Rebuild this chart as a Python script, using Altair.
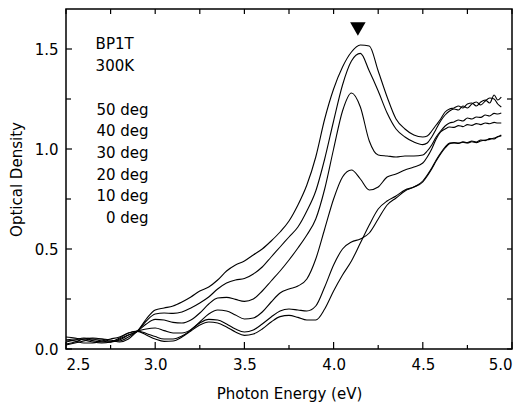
import altair as alt
import pandas as pd

# ---- data ----
energy = [2.50, 2.55, 2.60, 2.65, 2.70, 2.75, 2.80, 2.85, 2.90, 2.95,
          3.00, 3.05, 3.10, 3.15, 3.20, 3.25, 3.30, 3.35, 3.40, 3.45,
          3.50, 3.55, 3.60, 3.65, 3.70, 3.75, 3.80, 3.85, 3.90, 3.95,
          4.00, 4.05, 4.10, 4.15, 4.20, 4.25, 4.30, 4.35, 4.40, 4.45,
          4.50, 4.525, 4.55, 4.575, 4.60, 4.625, 4.65, 4.675, 4.70, 4.725,
          4.75, 4.775, 4.80, 4.825, 4.85, 4.875, 4.90, 4.92, 4.94]

od_50 = [0.045, 0.050, 0.050, 0.042, 0.035, 0.035, 0.050, 0.070, 0.090, 0.150,
         0.195, 0.205, 0.215, 0.235, 0.260, 0.290, 0.310, 0.345, 0.390, 0.420,
         0.440, 0.470, 0.500, 0.540, 0.585, 0.640, 0.720, 0.820, 0.960, 1.150,
         1.300, 1.410, 1.485, 1.520, 1.515, 1.390, 1.260, 1.150, 1.100, 1.070,
         1.060, 1.065, 1.090, 1.120, 1.150, 1.185, 1.200, 1.205, 1.215, 1.205,
         1.225, 1.230, 1.215, 1.235, 1.245, 1.230, 1.270, 1.245, 1.260]
od_40 = [0.035, 0.045, 0.055, 0.050, 0.040, 0.035, 0.045, 0.070, 0.090, 0.140,
         0.175, 0.180, 0.178, 0.185, 0.205, 0.230, 0.260, 0.300, 0.330, 0.345,
         0.352, 0.375, 0.410, 0.460, 0.510, 0.560, 0.610, 0.690, 0.790, 0.950,
         1.140, 1.320, 1.440, 1.478, 1.390, 1.290, 1.180, 1.100, 1.060, 1.035,
         1.022, 1.030, 1.060, 1.100, 1.140, 1.170, 1.190, 1.200, 1.195, 1.215,
         1.205, 1.225, 1.235, 1.220, 1.240, 1.255, 1.250, 1.225, 1.210]
od_30 = [0.025, 0.035, 0.050, 0.055, 0.050, 0.040, 0.040, 0.060, 0.088, 0.125,
         0.148, 0.145, 0.133, 0.130, 0.145, 0.180, 0.225, 0.255, 0.258, 0.248,
         0.238, 0.250, 0.290, 0.340, 0.390, 0.445, 0.505, 0.570, 0.650, 0.800,
         1.000, 1.190, 1.280, 1.210, 1.040, 0.970, 0.965, 0.960, 0.965, 0.965,
         0.970, 0.990, 1.020, 1.060, 1.090, 1.115, 1.130, 1.135, 1.145, 1.140,
         1.155, 1.150, 1.160, 1.158, 1.170, 1.165, 1.178, 1.175, 1.180]
od_20 = [0.020, 0.030, 0.040, 0.050, 0.050, 0.045, 0.035, 0.050, 0.087, 0.100,
         0.105, 0.092, 0.080, 0.080, 0.097, 0.135, 0.175, 0.195, 0.190, 0.170,
         0.150, 0.155, 0.185, 0.235, 0.280, 0.300, 0.315, 0.350, 0.450, 0.600,
         0.750, 0.860, 0.895, 0.850, 0.795, 0.810, 0.860, 0.875, 0.895, 0.910,
         0.930, 0.960, 1.000, 1.050, 1.085, 1.100, 1.110, 1.108, 1.117, 1.112,
         1.122, 1.118, 1.127, 1.122, 1.130, 1.126, 1.133, 1.130, 1.130]
od_10 = [0.045, 0.040, 0.030, 0.030, 0.040, 0.050, 0.060, 0.080, 0.090, 0.078,
         0.062, 0.050, 0.050, 0.065, 0.095, 0.130, 0.148, 0.145, 0.125, 0.100,
         0.085, 0.095, 0.125, 0.160, 0.190, 0.200, 0.195, 0.190, 0.215, 0.310,
         0.420, 0.500, 0.535, 0.550, 0.580, 0.650, 0.720, 0.755, 0.790, 0.810,
         0.840, 0.870, 0.905, 0.945, 0.980, 1.010, 1.030, 1.032, 1.030, 1.036,
         1.032, 1.040, 1.035, 1.045, 1.042, 1.052, 1.050, 1.062, 1.065]
od_0 = [0.060, 0.055, 0.045, 0.035, 0.030, 0.035, 0.055, 0.080, 0.088, 0.070,
        0.050, 0.038, 0.040, 0.060, 0.090, 0.120, 0.135, 0.130, 0.110, 0.085,
        0.068, 0.075, 0.100, 0.135, 0.162, 0.168, 0.158, 0.145, 0.145, 0.200,
        0.290, 0.370, 0.440, 0.530, 0.620, 0.700, 0.740, 0.765, 0.795, 0.810,
        0.835, 0.865, 0.900, 0.940, 0.975, 1.005, 1.027, 1.030, 1.028, 1.034,
        1.030, 1.036, 1.032, 1.040, 1.045, 1.048, 1.055, 1.060, 1.070]

series_names = ["50 deg", "40 deg", "30 deg", "20 deg", "10 deg", "0 deg"]
series_values = [od_50, od_40, od_30, od_20, od_10, od_0]

sample_lines = ["BP1T", "300K"]
x_ticks_major = [2.5, 3.0, 3.5, 4.0, 4.5, 5.0]
x_ticks_minor = [2.75, 3.25, 3.75, 4.25, 4.75]
y_ticks_major = [0.0, 0.5, 1.0, 1.5]
y_ticks_minor = [0.25, 0.75, 1.25]
peak_energy = [4.136]
peak_mark_od = [1.60]

# ---- build tables ----
rows = []
for name, vals in zip(series_names, series_values):
    for e, v in zip(energy, vals):
        rows.append({"energy": e, "od": v, "series": name})
df = pd.DataFrame(rows)

W, H = 446, 340
X0, X1, Y0, Y1 = 2.5, 5.0, 0.0, 1.7
FONT = "DejaVu Sans"
xs = alt.Scale(domain=[X0, X1], nice=False, zero=False)
ys = alt.Scale(domain=[Y0, Y1], nice=False)

def px_x(n):
    return n * (X1 - X0) / W

def px_y(n):
    return n * (Y1 - Y0) / H

lines = alt.Chart(df).mark_line(
    color="black", strokeWidth=1.1, interpolate="monotone"
).encode(
    x=alt.X("energy:Q", scale=xs,
            axis=alt.Axis(values=x_ticks_major, format=".1f", title="Photon Energy (eV)",
                          ticks=False, tickSize=0, domain=False, grid=False,
                          labelPadding=8, titlePadding=14)),
    y=alt.Y("od:Q", scale=ys,
            axis=alt.Axis(values=y_ticks_major, format=".1f", title="Optical Density",
                          ticks=False, tickSize=0, domain=False, grid=False,
                          labelPadding=8, titlePadding=10)),
    detail="series:N",
)

# inward tick marks on all four sides
tick_rows = []
for v in x_ticks_major:
    tick_rows.append({"energy": v, "energy2": v, "od": Y0, "od2": Y0 + px_y(7)})
for v in x_ticks_minor:
    tick_rows.append({"energy": v, "energy2": v, "od": Y0, "od2": Y0 + px_y(4)})
for v in sorted(x_ticks_major + x_ticks_minor):
    tick_rows.append({"energy": v, "energy2": v, "od": Y1, "od2": Y1 - px_y(5)})
for v in y_ticks_major:
    tick_rows.append({"energy": X0, "energy2": X0 + px_x(6), "od": v, "od2": v})
for v in y_ticks_minor:
    tick_rows.append({"energy": X0, "energy2": X0 + px_x(5), "od": v, "od2": v})
for v in sorted(y_ticks_major + y_ticks_minor):
    tick_rows.append({"energy": X1, "energy2": X1 - px_x(5), "od": v, "od2": v})
tick_df = pd.DataFrame(tick_rows)

ticks = alt.Chart(tick_df).mark_rule(color="black", strokeWidth=1.2).encode(
    x=alt.X("energy:Q", scale=xs), x2="energy2:Q",
    y=alt.Y("od:Q", scale=ys), y2="od2:Q",
)

# annotations
sample_df = pd.DataFrame({"text": sample_lines, "od": [1.498, 1.389], "energy": [2.666, 2.666]})
sample_text = alt.Chart(sample_df).mark_text(
    align="left", baseline="alphabetic", font=FONT, fontSize=15, color="black"
).encode(x=alt.X("energy:Q", scale=xs), y=alt.Y("od:Q", scale=ys), text="text:N")

deg_df = pd.DataFrame({"text": series_names,
                       "od": [1.172, 1.064, 0.955, 0.847, 0.738, 0.630],
                       "energy": [2.963] * 6})
deg_text = alt.Chart(deg_df).mark_text(
    align="right", baseline="alphabetic", font=FONT, fontSize=15, color="black"
).encode(x=alt.X("energy:Q", scale=xs), y=alt.Y("od:Q", scale=ys), text="text:N")

peak_df = pd.DataFrame({"energy": peak_energy, "od": peak_mark_od})
peak = alt.Chart(peak_df).mark_point(
    shape="triangle-down", filled=True, color="black", size=240, opacity=1
).encode(x=alt.X("energy:Q", scale=xs), y=alt.Y("od:Q", scale=ys))

chart = alt.layer(lines, ticks, sample_text, deg_text, peak).properties(
    width=W, height=H,
    padding={"left": 58, "top": 1, "right": 12, "bottom": 56},
    autosize=alt.AutoSizeParams(type="none"),
    background="white",
).configure_view(
    stroke="black", strokeWidth=1.5
).configure_axis(
    labelFont=FONT, labelFontSize=15, labelColor="black",
    titleFont=FONT, titleFontSize=15, titleColor="black", titleFontWeight="normal",
)

chart.save("out.html", embed_options={"renderer": "svg", "actions": False})
